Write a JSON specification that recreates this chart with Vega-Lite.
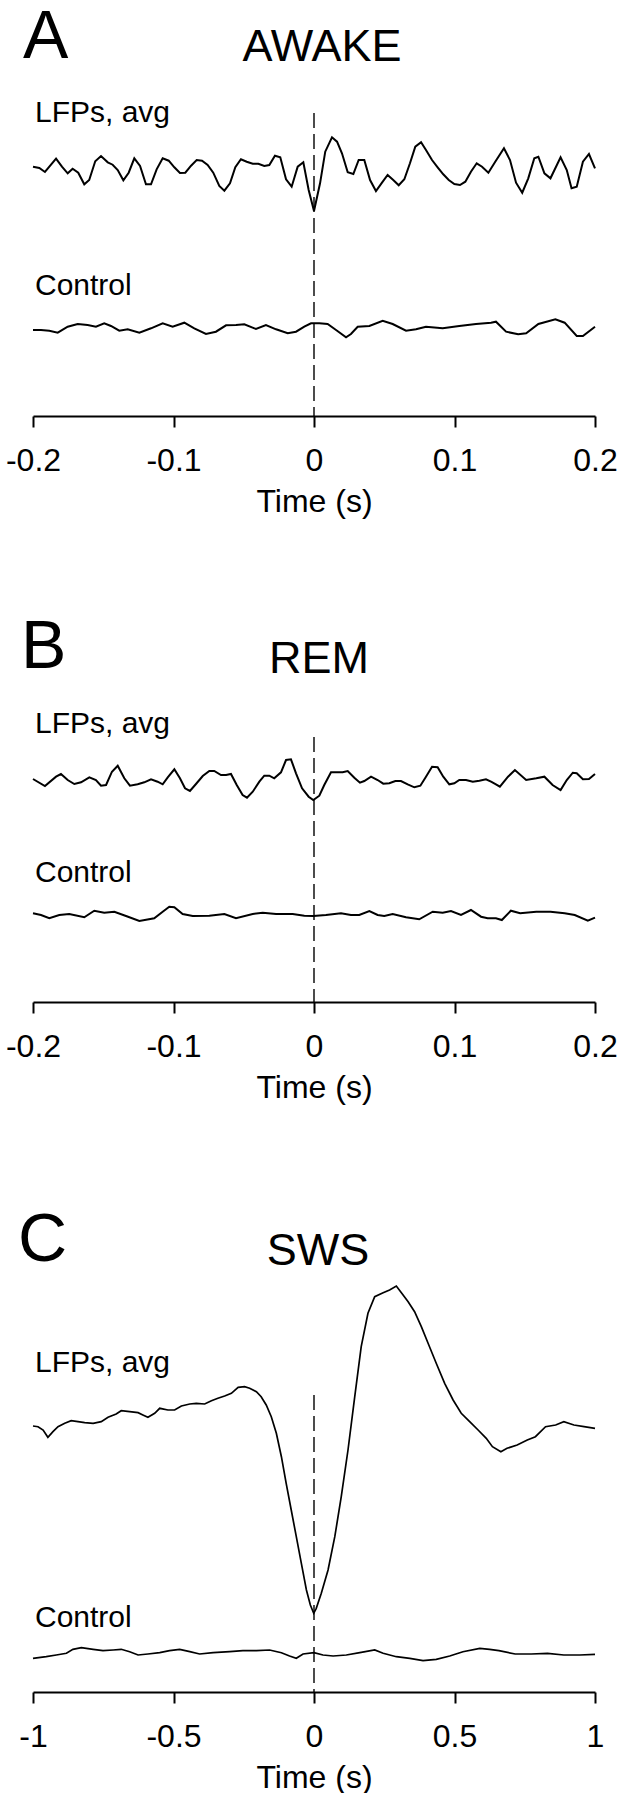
{
  "$schema": "https://vega.github.io/schema/vega-lite/v6.json",
  "background": "white",
  "padding": {"left": 5, "right": 0, "top": 0, "bottom": 0},
  "spacing": 100,
  "bounds": "flush",
  "config": {
    "view": {"stroke": null},
    "font": "Liberation Sans",
    "axis": {
      "grid": false, "domainColor": "black", "domainWidth": 2,
      "tickColor": "black", "tickWidth": 2, "tickSize": 11,
      "labelFont": "Liberation Sans", "labelFontSize": 32, "labelColor": "black",
      "labelPadding": 18, "labelFlush": false, "labelOverlap": false,
      "titleFont": "Liberation Sans", "titleFontSize": 32, "titleFontWeight": "normal",
      "titleColor": "black", "titlePadding": 10
    },
    "text": {"font": "Liberation Sans", "color": "black", "align": "left", "baseline": "alphabetic"}
  },
  "datasets": {
    "awake": [
      {"trace":"LFP","t":-0.2,"v":249.3},{"trace":"LFP","t":-0.1955,"v":248},{"trace":"LFP","t":-0.1915,"v":244},{"trace":"LFP","t":-0.1836,"v":257.3},{"trace":"LFP","t":-0.1794,"v":249.3},{"trace":"LFP","t":-0.1753,"v":242.7},{"trace":"LFP","t":-0.1718,"v":247.3},{"trace":"LFP","t":-0.1678,"v":243.3},{"trace":"LFP","t":-0.1635,"v":231.7},{"trace":"LFP","t":-0.16,"v":236},{"trace":"LFP","t":-0.1557,"v":254.7},{"trace":"LFP","t":-0.1516,"v":260},{"trace":"LFP","t":-0.1468,"v":253.7},{"trace":"LFP","t":-0.1433,"v":251.3},{"trace":"LFP","t":-0.1397,"v":246},{"trace":"LFP","t":-0.1357,"v":235.7},{"trace":"LFP","t":-0.1319,"v":243.3},{"trace":"LFP","t":-0.1279,"v":257.7},{"trace":"LFP","t":-0.1238,"v":250},{"trace":"LFP","t":-0.1196,"v":231.7},{"trace":"LFP","t":-0.116,"v":231.7},{"trace":"LFP","t":-0.112,"v":246.7},{"trace":"LFP","t":-0.1077,"v":257.7},{"trace":"LFP","t":-0.1034,"v":255.3},{"trace":"LFP","t":-0.0994,"v":248.7},{"trace":"LFP","t":-0.0954,"v":243},{"trace":"LFP","t":-0.0916,"v":243.3},{"trace":"LFP","t":-0.0875,"v":250.3},{"trace":"LFP","t":-0.0835,"v":256},{"trace":"LFP","t":-0.0797,"v":255.3},{"trace":"LFP","t":-0.0757,"v":251},{"trace":"LFP","t":-0.0717,"v":243.3},{"trace":"LFP","t":-0.0674,"v":230},{"trace":"LFP","t":-0.0638,"v":225.3},{"trace":"LFP","t":-0.0598,"v":232.7},{"trace":"LFP","t":-0.056,"v":248.7},{"trace":"LFP","t":-0.052,"v":256.7},{"trace":"LFP","t":-0.0479,"v":254.3},{"trace":"LFP","t":-0.0436,"v":252.3},{"trace":"LFP","t":-0.0396,"v":252.3},{"trace":"LFP","t":-0.0354,"v":250},{"trace":"LFP","t":-0.0318,"v":251},{"trace":"LFP","t":-0.0278,"v":260.3},{"trace":"LFP","t":-0.024,"v":258.7},{"trace":"LFP","t":-0.0199,"v":236.7},{"trace":"LFP","t":-0.0159,"v":229.3},{"trace":"LFP","t":-0.0116,"v":249.3},{"trace":"LFP","t":-0.0076,"v":253.7},{"trace":"LFP","t":-0.0038,"v":226},{"trace":"LFP","t":0.0,"v":205},{"trace":"LFP","t":0.0043,"v":232.7},{"trace":"LFP","t":0.008,"v":264.3},{"trace":"LFP","t":0.0128,"v":278.7},{"trace":"LFP","t":0.0164,"v":274.3},{"trace":"LFP","t":0.0199,"v":262.7},{"trace":"LFP","t":0.024,"v":243.7},{"trace":"LFP","t":0.028,"v":242},{"trace":"LFP","t":0.0318,"v":256},{"trace":"LFP","t":0.0358,"v":256},{"trace":"LFP","t":0.0399,"v":236},{"trace":"LFP","t":0.0441,"v":225},{"trace":"LFP","t":0.0484,"v":233.3},{"trace":"LFP","t":0.0524,"v":241},{"trace":"LFP","t":0.0564,"v":236},{"trace":"LFP","t":0.0603,"v":230.7},{"trace":"LFP","t":0.0643,"v":236.7},{"trace":"LFP","t":0.0683,"v":252.7},{"trace":"LFP","t":0.0721,"v":269.3},{"trace":"LFP","t":0.0762,"v":273.7},{"trace":"LFP","t":0.0797,"v":266},{"trace":"LFP","t":0.084,"v":256},{"trace":"LFP","t":0.088,"v":248.7},{"trace":"LFP","t":0.092,"v":241.7},{"trace":"LFP","t":0.0959,"v":236},{"trace":"LFP","t":0.0999,"v":232},{"trace":"LFP","t":0.1039,"v":231},{"trace":"LFP","t":0.1077,"v":234.3},{"trace":"LFP","t":0.1117,"v":244.3},{"trace":"LFP","t":0.1158,"v":252.7},{"trace":"LFP","t":0.1196,"v":249.3},{"trace":"LFP","t":0.1241,"v":243.3},{"trace":"LFP","t":0.129,"v":254.3},{"trace":"LFP","t":0.1352,"v":267.7},{"trace":"LFP","t":0.1395,"v":256},{"trace":"LFP","t":0.1438,"v":233.3},{"trace":"LFP","t":0.1482,"v":223.3},{"trace":"LFP","t":0.1525,"v":237.7},{"trace":"LFP","t":0.1568,"v":257.7},{"trace":"LFP","t":0.1597,"v":259.3},{"trace":"LFP","t":0.164,"v":242.7},{"trace":"LFP","t":0.1683,"v":237.7},{"trace":"LFP","t":0.1755,"v":258.7},{"trace":"LFP","t":0.1799,"v":246},{"trace":"LFP","t":0.1833,"v":227.7},{"trace":"LFP","t":0.187,"v":229.3},{"trace":"LFP","t":0.1914,"v":254.3},{"trace":"LFP","t":0.1957,"v":262},{"trace":"LFP","t":0.2,"v":247.7},
      {"trace":"Control","t":-0.2,"v":86},{"trace":"Control","t":-0.1943,"v":86},{"trace":"Control","t":-0.1884,"v":85.3},{"trace":"Control","t":-0.1824,"v":83.3},{"trace":"Control","t":-0.1753,"v":89.3},{"trace":"Control","t":-0.1682,"v":92},{"trace":"Control","t":-0.1611,"v":91},{"trace":"Control","t":-0.1552,"v":89.3},{"trace":"Control","t":-0.1493,"v":92.7},{"trace":"Control","t":-0.1445,"v":90},{"trace":"Control","t":-0.1386,"v":85.3},{"trace":"Control","t":-0.1326,"v":86.7},{"trace":"Control","t":-0.1243,"v":83.3},{"trace":"Control","t":-0.116,"v":87.7},{"trace":"Control","t":-0.1077,"v":92.7},{"trace":"Control","t":-0.1006,"v":89.3},{"trace":"Control","t":-0.0923,"v":93.3},{"trace":"Control","t":-0.0852,"v":87.7},{"trace":"Control","t":-0.0769,"v":82},{"trace":"Control","t":-0.0698,"v":84.3},{"trace":"Control","t":-0.0626,"v":90.7},{"trace":"Control","t":-0.0555,"v":91},{"trace":"Control","t":-0.0496,"v":91.7},{"trace":"Control","t":-0.0413,"v":87},{"trace":"Control","t":-0.0342,"v":91},{"trace":"Control","t":-0.027,"v":86.7},{"trace":"Control","t":-0.0187,"v":82.7},{"trace":"Control","t":-0.0128,"v":84.3},{"trace":"Control","t":-0.0069,"v":89.3},{"trace":"Control","t":-0.0021,"v":92.7},{"trace":"Control","t":0.0038,"v":92.7},{"trace":"Control","t":0.0097,"v":92},{"trace":"Control","t":0.0157,"v":86},{"trace":"Control","t":0.0228,"v":78.7},{"trace":"Control","t":0.0263,"v":82},{"trace":"Control","t":0.0311,"v":89.3},{"trace":"Control","t":0.0394,"v":90},{"trace":"Control","t":0.0489,"v":95.3},{"trace":"Control","t":0.056,"v":92},{"trace":"Control","t":0.0655,"v":85.3},{"trace":"Control","t":0.0726,"v":86.7},{"trace":"Control","t":0.0797,"v":89.3},{"trace":"Control","t":0.0916,"v":87.7},{"trace":"Control","t":0.1034,"v":90},{"trace":"Control","t":0.1153,"v":92},{"trace":"Control","t":0.126,"v":93.3},{"trace":"Control","t":0.1295,"v":94.3},{"trace":"Control","t":0.1367,"v":84.3},{"trace":"Control","t":0.1453,"v":81.7},{"trace":"Control","t":0.151,"v":82.7},{"trace":"Control","t":0.1597,"v":92},{"trace":"Control","t":0.1718,"v":96.7},{"trace":"Control","t":0.1784,"v":93.3},{"trace":"Control","t":0.187,"v":80},{"trace":"Control","t":0.1914,"v":80},{"trace":"Control","t":0.2,"v":89.3}
    ],
    "rem": [
      {"trace":"LFP","t":-0.2,"v":223},{"trace":"LFP","t":-0.1915,"v":216},{"trace":"LFP","t":-0.1836,"v":225.3},{"trace":"LFP","t":-0.1801,"v":228},{"trace":"LFP","t":-0.1753,"v":222},{"trace":"LFP","t":-0.1706,"v":218},{"trace":"LFP","t":-0.1658,"v":219.7},{"trace":"LFP","t":-0.1599,"v":224.7},{"trace":"LFP","t":-0.1552,"v":222},{"trace":"LFP","t":-0.1516,"v":216.3},{"trace":"LFP","t":-0.148,"v":217},{"trace":"LFP","t":-0.1438,"v":230.3},{"trace":"LFP","t":-0.1397,"v":236.3},{"trace":"LFP","t":-0.135,"v":223.7},{"trace":"LFP","t":-0.131,"v":216.3},{"trace":"LFP","t":-0.1255,"v":217.7},{"trace":"LFP","t":-0.1208,"v":219.7},{"trace":"LFP","t":-0.116,"v":222.7},{"trace":"LFP","t":-0.1113,"v":220.3},{"trace":"LFP","t":-0.1077,"v":217.7},{"trace":"LFP","t":-0.1041,"v":224.7},{"trace":"LFP","t":-0.0994,"v":232.7},{"trace":"LFP","t":-0.0954,"v":223.7},{"trace":"LFP","t":-0.0918,"v":213.7},{"trace":"LFP","t":-0.0883,"v":211},{"trace":"LFP","t":-0.084,"v":218},{"trace":"LFP","t":-0.0792,"v":226},{"trace":"LFP","t":-0.0745,"v":231},{"trace":"LFP","t":-0.071,"v":231},{"trace":"LFP","t":-0.0662,"v":227},{"trace":"LFP","t":-0.0626,"v":227},{"trace":"LFP","t":-0.0591,"v":228},{"trace":"LFP","t":-0.055,"v":217},{"trace":"LFP","t":-0.0508,"v":207},{"trace":"LFP","t":-0.0477,"v":204.3},{"trace":"LFP","t":-0.0436,"v":210.3},{"trace":"LFP","t":-0.0389,"v":220.3},{"trace":"LFP","t":-0.0354,"v":226.3},{"trace":"LFP","t":-0.0318,"v":226.3},{"trace":"LFP","t":-0.0283,"v":223.7},{"trace":"LFP","t":-0.0235,"v":229.7},{"trace":"LFP","t":-0.0199,"v":242},{"trace":"LFP","t":-0.0164,"v":242.7},{"trace":"LFP","t":-0.0128,"v":228.7},{"trace":"LFP","t":-0.0085,"v":213.7},{"trace":"LFP","t":-0.0038,"v":205.3},{"trace":"LFP","t":-0.0005,"v":202},{"trace":"LFP","t":0.0038,"v":206.3},{"trace":"LFP","t":0.0073,"v":217},{"trace":"LFP","t":0.0121,"v":229.7},{"trace":"LFP","t":0.0169,"v":229.7},{"trace":"LFP","t":0.0204,"v":229.7},{"trace":"LFP","t":0.024,"v":231},{"trace":"LFP","t":0.0287,"v":224.3},{"trace":"LFP","t":0.0327,"v":219.3},{"trace":"LFP","t":0.0358,"v":221},{"trace":"LFP","t":0.0406,"v":225.3},{"trace":"LFP","t":0.0453,"v":222},{"trace":"LFP","t":0.0493,"v":218.3},{"trace":"LFP","t":0.0536,"v":218.7},{"trace":"LFP","t":0.0579,"v":221},{"trace":"LFP","t":0.0619,"v":221},{"trace":"LFP","t":0.0667,"v":217.7},{"trace":"LFP","t":0.0714,"v":214.7},{"trace":"LFP","t":0.0757,"v":216.3},{"trace":"LFP","t":0.0797,"v":225.3},{"trace":"LFP","t":0.084,"v":235.3},{"trace":"LFP","t":0.088,"v":234.7},{"trace":"LFP","t":0.092,"v":225.3},{"trace":"LFP","t":0.0963,"v":217.7},{"trace":"LFP","t":0.0999,"v":218.7},{"trace":"LFP","t":0.1034,"v":222},{"trace":"LFP","t":0.1082,"v":222},{"trace":"LFP","t":0.113,"v":220.3},{"trace":"LFP","t":0.1177,"v":221.3},{"trace":"LFP","t":0.1224,"v":222.7},{"trace":"LFP","t":0.126,"v":220.3},{"trace":"LFP","t":0.1295,"v":217.7},{"trace":"LFP","t":0.1323,"v":215.3},{"trace":"LFP","t":0.1381,"v":225.3},{"trace":"LFP","t":0.143,"v":232},{"trace":"LFP","t":0.151,"v":222},{"trace":"LFP","t":0.1582,"v":223.7},{"trace":"LFP","t":0.164,"v":225.3},{"trace":"LFP","t":0.1698,"v":217},{"trace":"LFP","t":0.1755,"v":212},{"trace":"LFP","t":0.1799,"v":222},{"trace":"LFP","t":0.1842,"v":229.3},{"trace":"LFP","t":0.187,"v":228.7},{"trace":"LFP","t":0.1914,"v":222.7},{"trace":"LFP","t":0.1957,"v":223},{"trace":"LFP","t":0.2,"v":228},
      {"trace":"Control","t":-0.2,"v":88.7},{"trace":"Control","t":-0.1943,"v":87},{"trace":"Control","t":-0.1884,"v":83.7},{"trace":"Control","t":-0.1813,"v":87},{"trace":"Control","t":-0.1742,"v":88},{"trace":"Control","t":-0.1635,"v":84.7},{"trace":"Control","t":-0.1564,"v":91.3},{"trace":"Control","t":-0.1493,"v":89.3},{"trace":"Control","t":-0.1421,"v":90.3},{"trace":"Control","t":-0.1338,"v":86},{"trace":"Control","t":-0.1243,"v":81},{"trace":"Control","t":-0.1137,"v":83.7},{"trace":"Control","t":-0.1077,"v":90.3},{"trace":"Control","t":-0.103,"v":95.3},{"trace":"Control","t":-0.0994,"v":94.7},{"trace":"Control","t":-0.0935,"v":88},{"trace":"Control","t":-0.0863,"v":86},{"trace":"Control","t":-0.0745,"v":86.3},{"trace":"Control","t":-0.0638,"v":88},{"trace":"Control","t":-0.0555,"v":83.7},{"trace":"Control","t":-0.0436,"v":88},{"trace":"Control","t":-0.0365,"v":89.3},{"trace":"Control","t":-0.027,"v":88},{"trace":"Control","t":-0.0152,"v":88},{"trace":"Control","t":-0.0069,"v":86.3},{"trace":"Control","t":-0.0005,"v":86},{"trace":"Control","t":0.0085,"v":87},{"trace":"Control","t":0.0192,"v":88.7},{"trace":"Control","t":0.0263,"v":87},{"trace":"Control","t":0.0322,"v":87},{"trace":"Control","t":0.0394,"v":91},{"trace":"Control","t":0.0453,"v":87},{"trace":"Control","t":0.05,"v":86},{"trace":"Control","t":0.056,"v":88},{"trace":"Control","t":0.0655,"v":84.7},{"trace":"Control","t":0.0749,"v":82.7},{"trace":"Control","t":0.0845,"v":90.3},{"trace":"Control","t":0.0916,"v":89.3},{"trace":"Control","t":0.0975,"v":91},{"trace":"Control","t":0.1046,"v":87},{"trace":"Control","t":0.1117,"v":92},{"trace":"Control","t":0.1189,"v":85.3},{"trace":"Control","t":0.1236,"v":83.7},{"trace":"Control","t":0.1295,"v":83.7},{"trace":"Control","t":0.1337,"v":82},{"trace":"Control","t":0.1401,"v":91.3},{"trace":"Control","t":0.1467,"v":88.7},{"trace":"Control","t":0.1582,"v":90.3},{"trace":"Control","t":0.1683,"v":90.3},{"trace":"Control","t":0.1784,"v":88.7},{"trace":"Control","t":0.1856,"v":87},{"trace":"Control","t":0.1949,"v":81.3},{"trace":"Control","t":0.2,"v":84.3}
    ],
    "sws": [
      {"trace":"LFP","t":-1.0,"v":266},{"trace":"LFP","t":-0.982,"v":265.3},{"trace":"LFP","t":-0.964,"v":262},{"trace":"LFP","t":-0.947,"v":254.7},{"trace":"LFP","t":-0.929,"v":260.3},{"trace":"LFP","t":-0.911,"v":265.3},{"trace":"LFP","t":-0.887,"v":268.7},{"trace":"LFP","t":-0.864,"v":271.3},{"trace":"LFP","t":-0.84,"v":270.3},{"trace":"LFP","t":-0.816,"v":269.3},{"trace":"LFP","t":-0.786,"v":268.7},{"trace":"LFP","t":-0.757,"v":270.3},{"trace":"LFP","t":-0.733,"v":274.7},{"trace":"LFP","t":-0.704,"v":278},{"trace":"LFP","t":-0.686,"v":281.3},{"trace":"LFP","t":-0.656,"v":280.3},{"trace":"LFP","t":-0.626,"v":279.3},{"trace":"LFP","t":-0.609,"v":277},{"trace":"LFP","t":-0.591,"v":274.7},{"trace":"LFP","t":-0.567,"v":278.7},{"trace":"LFP","t":-0.549,"v":283.7},{"trace":"LFP","t":-0.52,"v":282},{"trace":"LFP","t":-0.496,"v":282},{"trace":"LFP","t":-0.472,"v":286},{"trace":"LFP","t":-0.442,"v":288},{"trace":"LFP","t":-0.419,"v":288.7},{"trace":"LFP","t":-0.389,"v":288},{"trace":"LFP","t":-0.365,"v":291.3},{"trace":"LFP","t":-0.342,"v":293.7},{"trace":"LFP","t":-0.318,"v":296},{"trace":"LFP","t":-0.294,"v":298.7},{"trace":"LFP","t":-0.27,"v":304.7},{"trace":"LFP","t":-0.247,"v":305.3},{"trace":"LFP","t":-0.229,"v":303.7},{"trace":"LFP","t":-0.205,"v":300.3},{"trace":"LFP","t":-0.188,"v":295.3},{"trace":"LFP","t":-0.17,"v":287},{"trace":"LFP","t":-0.152,"v":275.3},{"trace":"LFP","t":-0.134,"v":258.7},{"trace":"LFP","t":-0.116,"v":235.3},{"trace":"LFP","t":-0.099,"v":208.7},{"trace":"LFP","t":-0.081,"v":182},{"trace":"LFP","t":-0.063,"v":155.3},{"trace":"LFP","t":-0.045,"v":128.7},{"trace":"LFP","t":-0.027,"v":102},{"trace":"LFP","t":-0.013,"v":87},{"trace":"LFP","t":-0.001,"v":78.7},{"trace":"LFP","t":0.008,"v":83.7},{"trace":"LFP","t":0.026,"v":98.7},{"trace":"LFP","t":0.05,"v":122},{"trace":"LFP","t":0.074,"v":155.3},{"trace":"LFP","t":0.097,"v":195.3},{"trace":"LFP","t":0.121,"v":242},{"trace":"LFP","t":0.145,"v":295.3},{"trace":"LFP","t":0.168,"v":345.3},{"trace":"LFP","t":0.192,"v":378.7},{"trace":"LFP","t":0.216,"v":395.3},{"trace":"LFP","t":0.246,"v":399.3},{"trace":"LFP","t":0.269,"v":402},{"trace":"LFP","t":0.293,"v":406},{"trace":"LFP","t":0.311,"v":399.3},{"trace":"LFP","t":0.335,"v":390.3},{"trace":"LFP","t":0.358,"v":380.3},{"trace":"LFP","t":0.382,"v":365.3},{"trace":"LFP","t":0.406,"v":348.7},{"trace":"LFP","t":0.435,"v":328.7},{"trace":"LFP","t":0.465,"v":308.7},{"trace":"LFP","t":0.495,"v":292},{"trace":"LFP","t":0.524,"v":278.7},{"trace":"LFP","t":0.554,"v":270.3},{"trace":"LFP","t":0.584,"v":262},{"trace":"LFP","t":0.613,"v":253.7},{"trace":"LFP","t":0.635,"v":245.3},{"trace":"LFP","t":0.665,"v":240.3},{"trace":"LFP","t":0.687,"v":243.7},{"trace":"LFP","t":0.723,"v":247},{"trace":"LFP","t":0.759,"v":252},{"trace":"LFP","t":0.788,"v":255.3},{"trace":"LFP","t":0.824,"v":265.3},{"trace":"LFP","t":0.86,"v":267},{"trace":"LFP","t":0.889,"v":270.3},{"trace":"LFP","t":0.925,"v":267},{"trace":"LFP","t":0.961,"v":265.3},{"trace":"LFP","t":1.0,"v":263.7},
      {"trace":"Control","t":-1.0,"v":33.7},{"trace":"Control","t":-0.953,"v":35.3},{"trace":"Control","t":-0.917,"v":37},{"trace":"Control","t":-0.881,"v":38.7},{"trace":"Control","t":-0.858,"v":42.7},{"trace":"Control","t":-0.828,"v":44.3},{"trace":"Control","t":-0.786,"v":42.7},{"trace":"Control","t":-0.751,"v":41.3},{"trace":"Control","t":-0.715,"v":42},{"trace":"Control","t":-0.686,"v":42.7},{"trace":"Control","t":-0.656,"v":40.3},{"trace":"Control","t":-0.626,"v":37},{"trace":"Control","t":-0.591,"v":38},{"trace":"Control","t":-0.549,"v":39.3},{"trace":"Control","t":-0.514,"v":41.3},{"trace":"Control","t":-0.478,"v":42.7},{"trace":"Control","t":-0.442,"v":40.3},{"trace":"Control","t":-0.407,"v":38},{"trace":"Control","t":-0.359,"v":39.3},{"trace":"Control","t":-0.3,"v":40.3},{"trace":"Control","t":-0.253,"v":41.3},{"trace":"Control","t":-0.205,"v":41.3},{"trace":"Control","t":-0.158,"v":42},{"trace":"Control","t":-0.116,"v":39.3},{"trace":"Control","t":-0.087,"v":36},{"trace":"Control","t":-0.063,"v":33.7},{"trace":"Control","t":-0.039,"v":38},{"trace":"Control","t":0.0,"v":39.3},{"trace":"Control","t":0.032,"v":37},{"trace":"Control","t":0.068,"v":36},{"trace":"Control","t":0.115,"v":37},{"trace":"Control","t":0.163,"v":39.3},{"trace":"Control","t":0.216,"v":42},{"trace":"Control","t":0.246,"v":38.7},{"trace":"Control","t":0.293,"v":35.3},{"trace":"Control","t":0.341,"v":33.7},{"trace":"Control","t":0.388,"v":31.3},{"trace":"Control","t":0.435,"v":32.7},{"trace":"Control","t":0.483,"v":36},{"trace":"Control","t":0.53,"v":40.3},{"trace":"Control","t":0.59,"v":43.7},{"trace":"Control","t":0.625,"v":42.7},{"trace":"Control","t":0.658,"v":41.3},{"trace":"Control","t":0.716,"v":38},{"trace":"Control","t":0.773,"v":38},{"trace":"Control","t":0.831,"v":38.7},{"trace":"Control","t":0.889,"v":37},{"trace":"Control","t":0.946,"v":37},{"trace":"Control","t":1.0,"v":37.7}
    ]
  },
  "vconcat": [
    {
      "width": 562, "height": 416,
      "layer": [
        {
          "data": {"name": "awake"},
          "mark": {"type": "line", "color": "black", "strokeWidth": 2},
          "encoding": {
            "x": {"field": "t", "type": "quantitative", "scale": {"domain": [-0.2, 0.2], "nice": false, "zero": false},
                  "axis": {"title": "Time (s)", "values": [-0.2, -0.1, 0, 0.1, 0.2], "format": "~g", "labelExpr": "replace(datum.label, '\u2212', '-')"}},
            "y": {"field": "v", "type": "quantitative", "scale": {"domain": [0, 416], "nice": false, "zero": false}, "axis": null},
            "detail": {"field": "trace"}
          }
        },
        {"data": {"values": [{}]}, "mark": {"type": "rule", "color": "black", "strokeWidth": 1.4, "strokeDash": [15, 6]},
         "encoding": {"x": {"datum": 0}, "y": {"datum": 303}, "y2": {"datum": 0}}},
        {"data": {"values": [{}]}, "mark": {"type": "text", "fontSize": 68, "dx": -10, "text": "A"},
         "encoding": {"x": {"datum": -0.2}, "y": {"datum": 358}}},
        {"data": {"values": [{}]}, "mark": {"type": "text", "fontSize": 45, "align": "center", "dx": 8, "text": "AWAKE"},
         "encoding": {"x": {"datum": 0}, "y": {"datum": 355}}},
        {"data": {"values": [{}]}, "mark": {"type": "text", "fontSize": 30, "dx": 2, "text": "LFPs, avg"},
         "encoding": {"x": {"datum": -0.2}, "y": {"datum": 294}}},
        {"data": {"values": [{}]}, "mark": {"type": "text", "fontSize": 30, "dx": 2, "text": "Control"},
         "encoding": {"x": {"datum": -0.2}, "y": {"datum": 121}}}
      ]
    },
    {
      "width": 562, "height": 486,
      "layer": [
        {
          "data": {"name": "rem"},
          "mark": {"type": "line", "color": "black", "strokeWidth": 2},
          "encoding": {
            "x": {"field": "t", "type": "quantitative", "scale": {"domain": [-0.2, 0.2], "nice": false, "zero": false},
                  "axis": {"title": "Time (s)", "values": [-0.2, -0.1, 0, 0.1, 0.2], "format": "~g", "labelExpr": "replace(datum.label, '\u2212', '-')"}},
            "y": {"field": "v", "type": "quantitative", "scale": {"domain": [0, 486], "nice": false, "zero": false}, "axis": null},
            "detail": {"field": "trace"}
          }
        },
        {"data": {"values": [{}]}, "mark": {"type": "rule", "color": "black", "strokeWidth": 1.4, "strokeDash": [15, 6]},
         "encoding": {"x": {"datum": 0}, "y": {"datum": 265}, "y2": {"datum": 0}}},
        {"data": {"values": [{}]}, "mark": {"type": "text", "fontSize": 68, "dx": -12, "text": "B"},
         "encoding": {"x": {"datum": -0.2}, "y": {"datum": 334}}},
        {"data": {"values": [{}]}, "mark": {"type": "text", "fontSize": 45, "align": "center", "dx": 5, "text": "REM"},
         "encoding": {"x": {"datum": 0}, "y": {"datum": 329}}},
        {"data": {"values": [{}]}, "mark": {"type": "text", "fontSize": 30, "dx": 2, "text": "LFPs, avg"},
         "encoding": {"x": {"datum": -0.2}, "y": {"datum": 269}}},
        {"data": {"values": [{}]}, "mark": {"type": "text", "fontSize": 30, "dx": 2, "text": "Control"},
         "encoding": {"x": {"datum": -0.2}, "y": {"datum": 120}}}
      ]
    },
    {
      "width": 562, "height": 590,
      "layer": [
        {
          "data": {"name": "sws"},
          "mark": {"type": "line", "color": "black", "strokeWidth": 1.7},
          "encoding": {
            "x": {"field": "t", "type": "quantitative", "scale": {"domain": [-1, 1], "nice": false, "zero": false},
                  "axis": {"title": "Time (s)", "values": [-1, -0.5, 0, 0.5, 1], "format": "~g", "labelExpr": "replace(datum.label, '\u2212', '-')"}},
            "y": {"field": "v", "type": "quantitative", "scale": {"domain": [0, 590], "nice": false, "zero": false}, "axis": null},
            "detail": {"field": "trace"}
          }
        },
        {"data": {"values": [{}]}, "mark": {"type": "rule", "color": "black", "strokeWidth": 1.4, "strokeDash": [15, 6]},
         "encoding": {"x": {"datum": 0}, "y": {"datum": 297}, "y2": {"datum": 0}}},
        {"data": {"values": [{}]}, "mark": {"type": "text", "fontSize": 68, "dx": -15, "text": "C"},
         "encoding": {"x": {"datum": -1}, "y": {"datum": 431}}},
        {"data": {"values": [{}]}, "mark": {"type": "text", "fontSize": 45, "align": "center", "dx": 4, "text": "SWS"},
         "encoding": {"x": {"datum": 0}, "y": {"datum": 427}}},
        {"data": {"values": [{}]}, "mark": {"type": "text", "fontSize": 30, "dx": 2, "text": "LFPs, avg"},
         "encoding": {"x": {"datum": -1}, "y": {"datum": 320}}},
        {"data": {"values": [{}]}, "mark": {"type": "text", "fontSize": 30, "dx": 2, "text": "Control"},
         "encoding": {"x": {"datum": -1}, "y": {"datum": 65}}}
      ]
    }
  ]
}
